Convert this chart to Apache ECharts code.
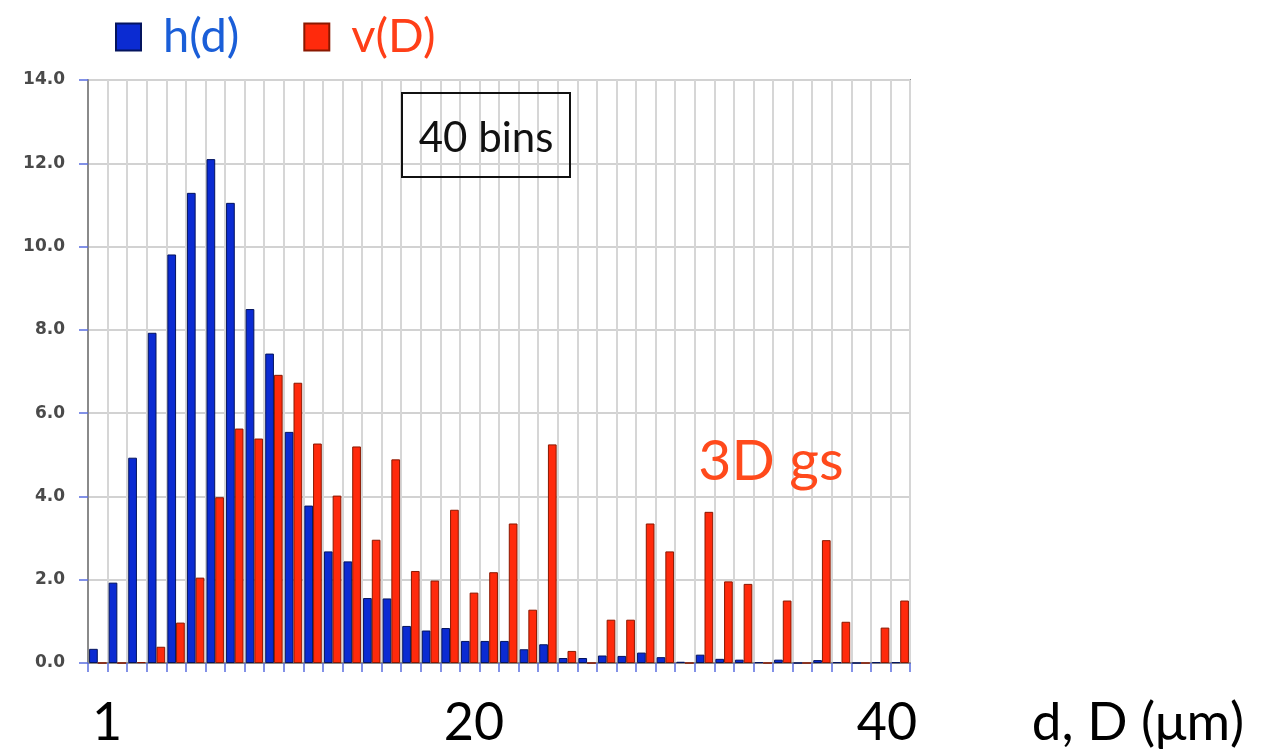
<!DOCTYPE html>
<html>
<head>
<meta charset="utf-8">
<title>h(d) and v(D) histograms</title>
<script src="https://cdn.jsdelivr.net/npm/echarts@6/dist/echarts.min.js"></script>
<style>
  html, body { margin: 0; padding: 0; background: #ffffff; }
  #chart { width: 1261px; height: 754px; }
</style>
</head>
<body>
<div id="chart"></div>
<script>
// Bin numbers (1 µm bins)
const bins = Array.from({ length: 42 }, (_, i) => String(i + 1));

// h(d): 2D section-diameter histogram (%)
const hValues = [
  0.34, 1.93, 4.93, 7.93, 9.81, 11.29, 12.1, 11.05, 8.5, 7.43,
  5.55, 3.78, 2.68, 2.44, 1.56, 1.55, 0.89, 0.78, 0.84, 0.53,
  0.53, 0.53, 0.33, 0.45, 0.12, 0.12, 0.18, 0.17, 0.25, 0.14,
  0.03, 0.2, 0.1, 0.08, 0.02, 0.08, 0, 0.07, 0.02, 0,
  0.02, 0.02
];

// v(D): 3D grain-size volume histogram (%)
const vValues = [
  0, 0, 0.02, 0.39, 0.97, 2.05, 3.98, 5.63, 5.39, 6.92,
  6.73, 5.27, 4.02, 5.2, 2.96, 4.89, 2.21, 1.98, 3.68, 1.69,
  2.18, 3.35, 1.28, 5.25, 0.29, 0, 1.04, 1.04, 3.35, 2.68,
  0, 3.63, 1.96, 1.9, 0, 1.5, 0, 2.95, 0.99, 0,
  0.85, 1.5
];

// Size labels under the axis and the axis name
const tickLabels = ['1', '20', '40'];
const axisTitle = 'd, D (μm)';
const seriesNames = ['h(d)', 'v(D)'];

const BIG_FONT = 'Lato, "Open Sans", sans-serif';
const bigText = (text, x, y, color, size, align) => ({
  type: 'text',
  x: x, y: y,
  style: {
    text: text,
    fill: color,
    font: size + 'px ' + BIG_FONT,
    textAlign: align || 'center',
    textVerticalAlign: 'middle'
  },
  z: 100
});

const chart = echarts.init(document.getElementById('chart'), null, { renderer: 'canvas' });

chart.setOption({
  backgroundColor: '#ffffff',
  animation: false,
  grid: {
    left: 88, top: 80, width: 822, height: 583,
    show: true,
    backgroundColor: '#ffffff',
    borderColor: '#8a8a8a',
    borderWidth: 2
  },
  legend: {
    left: 115,
    top: 11,
    padding: 0,
    itemGap: 64,
    itemWidth: 25,
    itemHeight: 27,
    icon: 'rect',
    selectedMode: false,
    data: [
      { name: seriesNames[0], textStyle: { color: '#1a5ed8' } },
      { name: seriesNames[1], textStyle: { color: '#ff3f18' } }
    ],
    textStyle: {
      fontFamily: BIG_FONT,
      fontSize: 47,
      lineHeight: 52,
      padding: [0, 0, 0, 17]
    }
  },
  xAxis: {
    type: 'category',
    data: bins,
    boundaryGap: true,
    axisLine: { show: true, lineStyle: { color: '#8a8a8a', width: 2 } },
    axisTick: {
      show: true, interval: 0, length: 9,
      lineStyle: { color: '#5a6ee0', width: 1.5 }
    },
    axisLabel: { show: false },
    splitLine: {
      show: true, interval: 0,
      lineStyle: { color: '#d6d6d6', width: 2 }
    }
  },
  yAxis: {
    type: 'value',
    min: 0, max: 14, interval: 2,
    axisLine: { show: true, lineStyle: { color: '#8a8a8a', width: 2 } },
    axisTick: {
      show: true, length: 9,
      lineStyle: { color: '#5a6ee0', width: 1.5 }
    },
    axisLabel: {
      margin: 23,
      color: '#4a4a4a',
      fontFamily: '"DejaVu Sans", Verdana, sans-serif',
      fontWeight: 'bold',
      fontSize: 17,
      formatter: v => v.toFixed(1)
    },
    splitLine: { show: true, lineStyle: { color: '#d2d2d2', width: 2 } }
  },
  series: [
    {
      name: seriesNames[0],
      type: 'bar',
      data: hValues,
      barGap: '0%',
      barCategoryGap: '11%',
      itemStyle: { color: '#0b2bd2', borderColor: '#04145e', borderWidth: 1 }
    },
    {
      name: seriesNames[1],
      type: 'bar',
      data: vValues,
      barGap: '0%',
      barCategoryGap: '11%',
      itemStyle: { color: '#ff2a0c', borderColor: '#8a1800', borderWidth: 1 }
    }
  ],
  graphic: [
    {
      type: 'rect',
      shape: { x: 402, y: 93, width: 168, height: 84 },
      style: { fill: 'none', stroke: '#111111', lineWidth: 2 },
      z: 100
    },
    bigText('40 bins', 486, 138, '#111111', 42),
    bigText('3D gs', 771, 462, '#ff4a1c', 57),
    bigText(tickLabels[0], 107, 723, '#000000', 52),
    bigText(tickLabels[1], 474, 723, '#000000', 52),
    bigText(tickLabels[2], 887, 723, '#000000', 52),
    bigText(axisTitle, 1138, 723, '#000000', 53)
  ]
});
</script>
</body>
</html>
